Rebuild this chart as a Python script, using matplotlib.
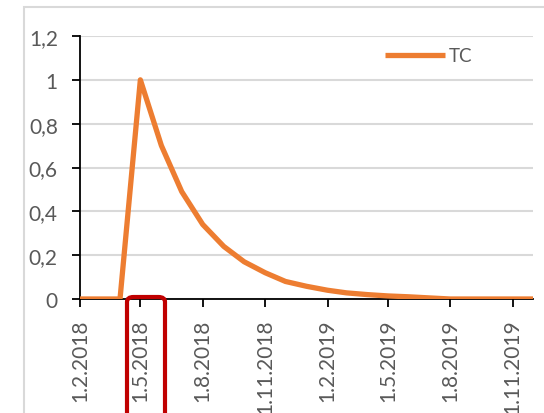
import datetime as dt

import matplotlib
matplotlib.use("Agg")
import matplotlib.pyplot as plt
from matplotlib.patches import FancyBboxPatch, Rectangle

# monthly series, 1.2.2018 .. 1.12.2019
MONTHS = [dt.date(2018 + (1 + i) // 12, (1 + i) % 12 + 1, 1) for i in range(23)]
TC = [0, 0, 0, 1.0, 0.70, 0.49, 0.34, 0.24, 0.17, 0.12, 0.08, 0.058,
      0.04, 0.028, 0.02, 0.014, 0.01, 0.005, 0, 0, 0, 0, 0]
Y_TICKS = [0, 0.2, 0.4, 0.6, 0.8, 1.0, 1.2]
X_TICKS = MONTHS[::3]

ORANGE = "#ED7D31"
TEXT = "#595959"
GRID = "#d9d9d9"
RED = "#C00000"

plt.rcParams["font.family"] = ["Lato", "DejaVu Sans"]

fig = plt.figure(figsize=(5.44, 4.14), dpi=100)
fig.patch.set_facecolor("white")

# chart-area border (runs off the right and bottom edges)
fig.add_artist(Rectangle((24 / 544, -0.1), 1.0, 1 - 8 / 414 + 0.1,
                         transform=fig.transFigure, fill=False,
                         edgecolor=GRID, lw=1.5))

ax = fig.add_axes([80 / 544, 1 - 300 / 414, (533 - 80) / 544, (300 - 37) / 414])
ax.plot(MONTHS, TC, color=ORANGE, lw=3.8, solid_joinstyle="round",
        solid_capstyle="butt", label="TC", zorder=3)

ax.set_xlim(MONTHS[0], MONTHS[-1])
ax.set_ylim(0, 1.2)
ax.set_yticks(Y_TICKS)
ax.set_yticklabels([f"{v:g}".replace(".", ",") for v in Y_TICKS])
ax.set_xticks(X_TICKS)
ax.set_xticklabels([f"{d.day}.{d.month}.{d.year}" for d in X_TICKS], rotation=90)

ax.grid(axis="y", color=GRID, lw=1.5)
ax.set_axisbelow(True)
for side in ("top", "right"):
    ax.spines[side].set_visible(False)
for side in ("left", "bottom"):
    ax.spines[side].set_color("black")
    ax.spines[side].set_linewidth(1.3)
ax.tick_params(axis="both", direction="out", length=6, width=1.3,
               colors="black", labelcolor=TEXT, labelsize=15)
ax.tick_params(axis="y", pad=10)
ax.tick_params(axis="x", pad=8)

leg = ax.legend(loc="center left", bbox_to_anchor=(0.673, 0.924), frameon=False,
                borderpad=0, borderaxespad=0, handlelength=3.2,
                handletextpad=0.2, fontsize=13.5)
for t in leg.get_texts():
    t.set_color(TEXT)

# highlight box around the 1.5.2018 label
fig.add_artist(FancyBboxPatch((127 / 544, -0.05), (165 - 127) / 544,
                              (0.05 + 1 - 298 / 414),
                              boxstyle="round,pad=0,rounding_size=0.012",
                              transform=fig.transFigure, fill=False,
                              edgecolor=RED, lw=3, zorder=10))

fig.savefig("out.png", dpi=100)
